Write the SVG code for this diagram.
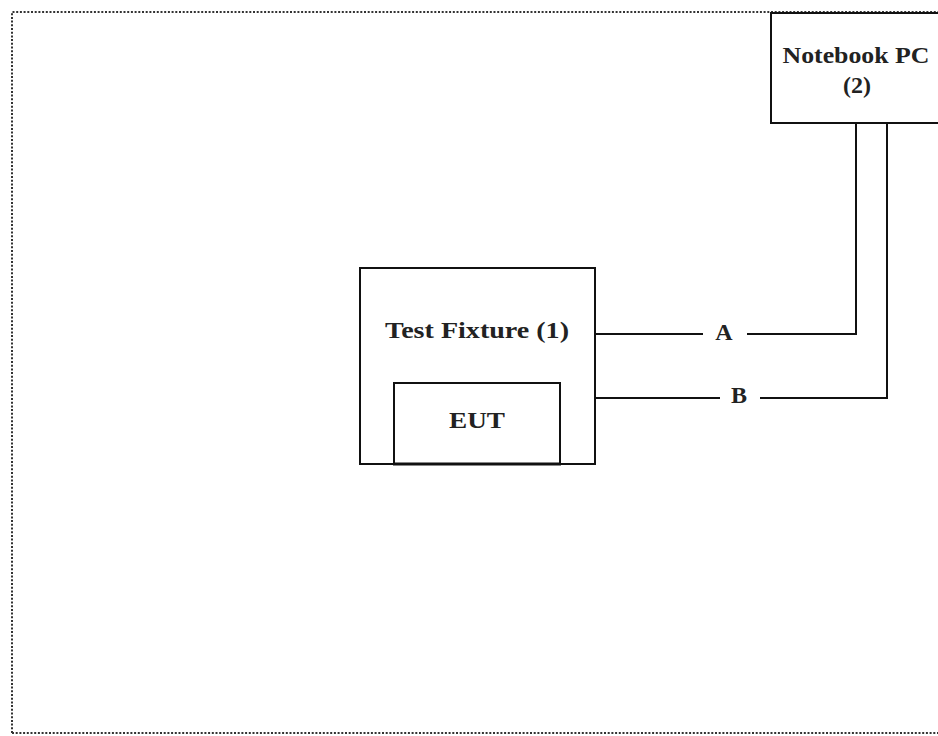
<svg xmlns="http://www.w3.org/2000/svg" width="938" height="736" viewBox="0 0 938 736">
<style>
.box{fill:#fff;stroke:#111;stroke-width:2}
.w{stroke:#111;stroke-width:2;fill:none}
.t{font-family:"Liberation Serif",serif;font-weight:bold;font-size:24px;fill:#222;text-anchor:middle}
</style>
<rect width="938" height="736" fill="#fff"/>
<path d="M12,733 V12 H940 M12,733 H940" fill="none" stroke="#333" stroke-width="2" stroke-dasharray="2,1.7"/>
<g id="connectors">
<path class="w" d="M595,334 H703 M747,334 H856 V123"/>
<text class="t" x="724" y="340">A</text>
<path class="w" d="M595,398 H720 M760,398 H887 V123"/>
<text class="t" x="739" y="403">B</text>
</g>
<g id="notebook">
<rect class="box" x="771" y="13" width="180" height="110"/>
<text class="t" x="856" y="63" textLength="147" lengthAdjust="spacingAndGlyphs">Notebook PC</text>
<text class="t" x="857" y="93">(2)</text>
</g>
<g id="fixture">
<rect class="box" x="360" y="268" width="235" height="196"/>
<text class="t" x="477" y="338" textLength="184" lengthAdjust="spacingAndGlyphs">Test Fixture (1)</text>
<line class="w" x1="359" y1="464" x2="596" y2="464" stroke-width="3"/>
</g>
<g id="eut">
<rect class="box" x="394" y="383" width="166" height="81"/>
<text class="t" x="477" y="428" textLength="56" lengthAdjust="spacingAndGlyphs">EUT</text>
<line x1="393" y1="464" x2="561" y2="464" stroke="#111" stroke-width="3"/>
</g>
</svg>
